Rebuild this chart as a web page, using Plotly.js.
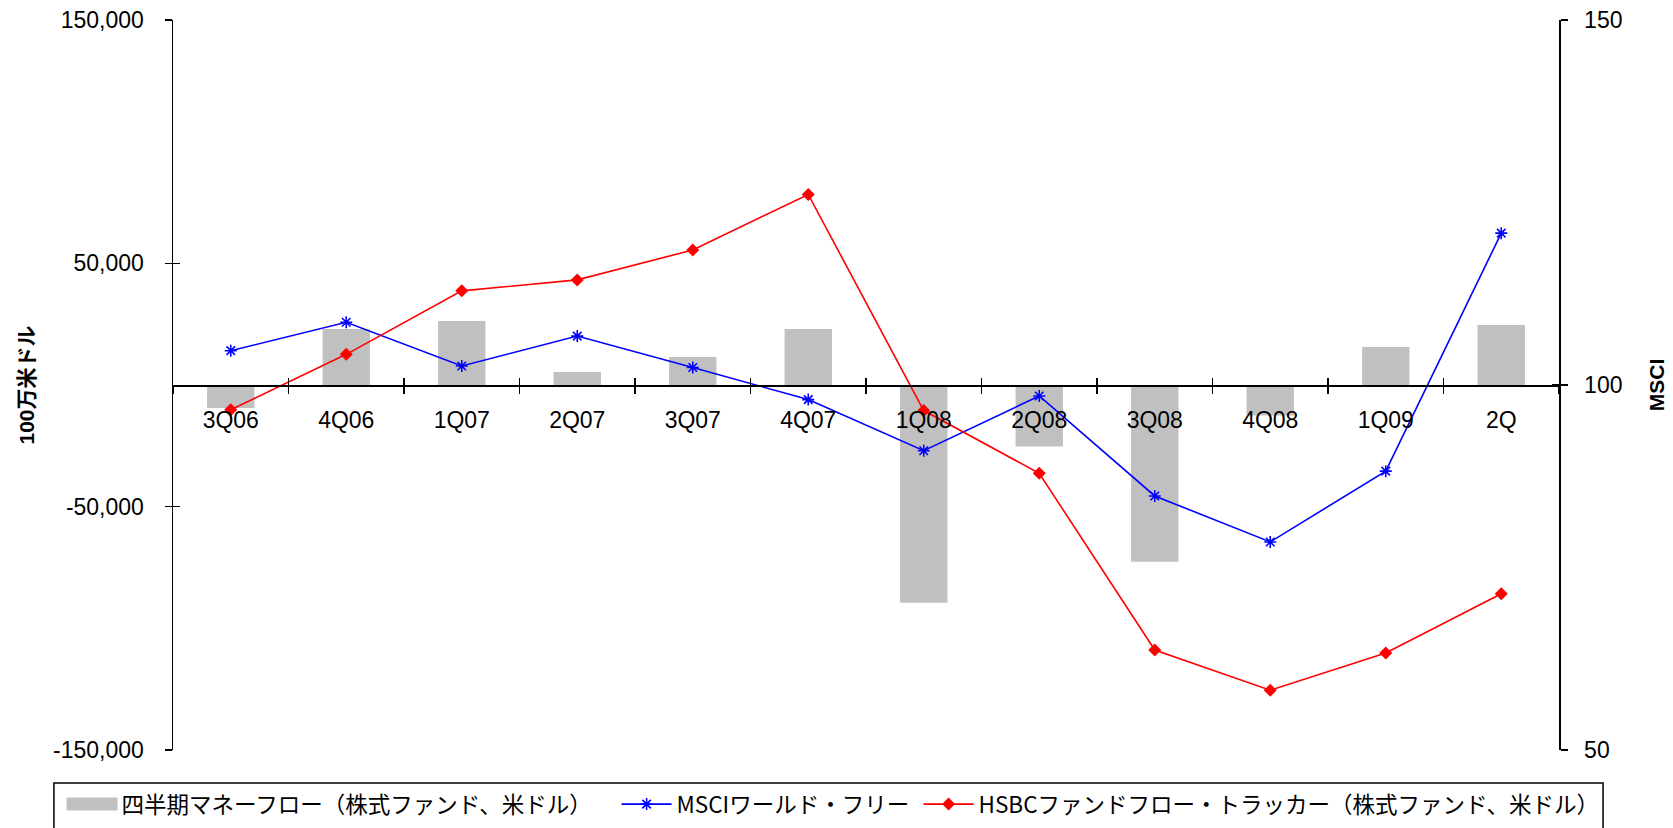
<!DOCTYPE html>
<html>
<head>
<meta charset="utf-8">
<script src="https://cdn.plot.ly/plotly-3.0.1.min.js"></script>
<style>
  html, body { margin: 0; padding: 0; background: #ffffff; }
  #chart { width: 1673px; height: 828px; }
</style>
</head>
<body>
<div id="chart"></div>
<script>
// Quarter labels along the category axis
const quarters = ['3Q06', '4Q06', '1Q07', '2Q07', '3Q07', '4Q07', '1Q08', '2Q08', '3Q08', '4Q08', '1Q09', '2Q'];

// Quarterly equity fund money flow, million USD (left axis)
const moneyFlow = [-9500, 23000, 26300, 5300, 11500, 23000, -89500, -25300, -72600, -12500, 15600, 24700];

// MSCI World Free index (right axis)
const msciWorld = [104.7, 108.6, 102.6, 106.7, 102.4, 98.0, 91.0, 98.5, 84.8, 78.5, 88.2, 120.8];

// HSBC fund flow tracker (right axis)
const hsbcTracker = [96.6, 104.2, 112.9, 114.4, 118.5, 126.1, 96.5, 87.9, 63.7, 58.2, 63.3, 71.4];

// Series names
const flowName = '四半期マネーフロー（株式ファンド、米ドル）';
const msciName = 'MSCIワールド・フリー';
const hsbcName = 'HSBCファンドフロー・トラッカー（株式ファンド、米ドル）';

// Axis ticks
const leftTickVals = [-150000, -50000, 50000, 150000];
const leftTickText = ['-150,000', '-50,000', '50,000', '150,000'];
const rightTickVals = [50, 100, 150];
const rightTickText = ['50', '100', '150'];

const tickFont = { family: 'Liberation Sans, Arial, sans-serif', size: 23, color: '#000000' };
const titleFont = { family: 'Liberation Sans, Noto Sans CJK JP, sans-serif', size: 21, color: '#000000', weight: 'bold' };

// Empty values so the overlay axes (inner half of the crossing ticks) get drawn
const emptyValues = quarters.map(() => null);

const traces = [
  {
    type: 'bar',
    name: flowName,
    x: quarters,
    y: moneyFlow,
    yaxis: 'y',
    legendwidth: 490,
    marker: { color: '#C0C0C0', line: { width: 0 } },
    hoverinfo: 'x+y'
  },
  {
    type: 'scatter',
    mode: 'lines+markers',
    name: msciName,
    x: quarters,
    y: msciWorld,
    yaxis: 'y2',
    legendwidth: 237,
    line: { color: '#0000FF', width: 1.6 },
    marker: { symbol: 'asterisk-open', size: 10, color: '#0000FF', line: { color: '#0000FF', width: 1.6 } }
  },
  {
    type: 'scatter',
    mode: 'lines+markers',
    name: hsbcName,
    x: quarters,
    y: hsbcTracker,
    yaxis: 'y2',
    line: { color: '#FF0000', width: 1.6 },
    marker: { symbol: 'diamond', size: 10, color: '#FF0000' }
  },
  {
    type: 'scatter', mode: 'markers', x: quarters, y: emptyValues,
    xaxis: 'x2', yaxis: 'y3', showlegend: false, hoverinfo: 'skip',
    marker: { opacity: 0 }
  },
  {
    type: 'scatter', mode: 'markers', x: quarters, y: emptyValues,
    xaxis: 'x2', yaxis: 'y4', showlegend: false, hoverinfo: 'skip',
    marker: { opacity: 0 }
  }
];

const axisCommon = {
  showgrid: false,
  zeroline: false,
  linecolor: '#000000',
  linewidth: 1.5,
  tickcolor: '#000000',
  tickwidth: 1.5,
  ticklen: 7,
  tickfont: tickFont,
  fixedrange: true
};

const layout = {
  width: 1673,
  height: 828,
  margin: { l: 173, r: 114, t: 20, b: 78, pad: 0, autoexpand: false },
  paper_bgcolor: '#ffffff',
  plot_bgcolor: '#ffffff',
  bargap: 0.59,
  showlegend: true,
  legend: {
    orientation: 'h',
    x: -0.0804,
    xanchor: 'left',
    y: -0.0452,
    yanchor: 'top',
    bgcolor: 'rgba(0,0,0,0)',
    borderwidth: 0,
    font: { family: 'Noto Sans CJK JP, sans-serif', size: 22.5, color: '#000000' },
    itemwidth: 50,
    traceorder: 'normal'
  },
  xaxis: Object.assign({}, axisCommon, {
    type: 'category',
    anchor: 'free',
    position: 0.5,
    range: [-0.5, quarters.length - 0.5],
    showline: true,
    ticks: 'outside',
    tickson: 'boundaries',
    ticklabelstandoff: 14
  }),
  xaxis2: Object.assign({}, axisCommon, {
    type: 'category',
    overlaying: 'x',
    anchor: 'free',
    position: 0.5,
    range: [-0.5, quarters.length - 0.5],
    ticks: 'inside',
    tickson: 'boundaries',
    showticklabels: false,
    showline: false
  }),
  yaxis: Object.assign({}, axisCommon, {
    range: [-150000, 150000],
    tickmode: 'array',
    tickvals: leftTickVals,
    ticktext: leftTickText,
    ticks: 'outside',
    showline: true,
    ticklabelstandoff: 16,
    title: { text: '100万米ドル', font: titleFont, standoff: 12 }
  }),
  yaxis2: Object.assign({}, axisCommon, {
    overlaying: 'y',
    side: 'right',
    anchor: 'x',
    range: [50, 150],
    tickmode: 'array',
    tickvals: rightTickVals,
    ticktext: rightTickText,
    ticks: 'outside',
    showline: true,
    ticklabelstandoff: 12,
    title: { text: 'MSCI', font: titleFont, standoff: 28 }
  }),
  yaxis3: Object.assign({}, axisCommon, {
    overlaying: 'y',
    side: 'left',
    anchor: 'x',
    range: [-150000, 150000],
    tickmode: 'array',
    tickvals: leftTickVals,
    ticks: 'inside',
    showticklabels: false,
    showline: false
  }),
  yaxis4: Object.assign({}, axisCommon, {
    overlaying: 'y',
    side: 'right',
    anchor: 'x',
    range: [50, 150],
    tickmode: 'array',
    tickvals: rightTickVals,
    ticks: 'inside',
    showticklabels: false,
    showline: false
  }),
  shapes: [
    {
      // legend frame
      type: 'rect',
      xref: 'paper', yref: 'paper',
      x0: -0.0859, x1: 1.0318,
      y0: -0.0452, y1: -0.16,
      line: { color: '#000000', width: 1.5 },
      fillcolor: 'rgba(0,0,0,0)',
      layer: 'below'
    }
  ]
};

Plotly.newPlot('chart', traces, layout, { displayModeBar: false, staticPlot: true }).then(gd => {
  // widen the bar swatch in the legend into a flat rectangle ending just before its label
  const items = gd.querySelectorAll('.legend .traces');
  if (!items.length) return;
  const item = items[0];
  const swatch = item.querySelector('.legendpoints path');
  const label = item.querySelector('text.legendtext');
  if (!swatch || !label) return;
  const sr = swatch.getBoundingClientRect();
  const lr = label.getBoundingClientRect();
  const cx = sr.left + sr.width / 2;
  const right = lr.left - 4 - cx;
  const left = right - 51;
  swatch.setAttribute('d', `M${left},-6.5H${right}V6.5H${left}Z`);
});
</script>
</body>
</html>
